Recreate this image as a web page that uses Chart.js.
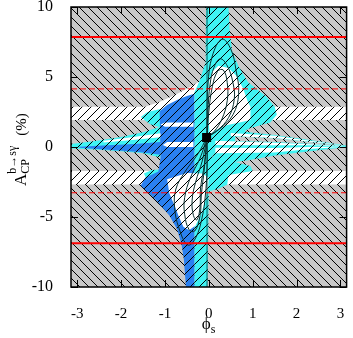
<!DOCTYPE html>
<html>
<head>
<meta charset="utf-8">
<script src="https://cdn.jsdelivr.net/npm/chart.js@4.4.0/dist/chart.umd.min.js"></script>
<style>
html, body { margin: 0; padding: 0; background: #fff; }
</style>
</head>
<body>
<canvas id="c" width="353" height="338"></canvas>
<script>
// axis ticks
const xTicks = [-3, -2, -1, 0, 1, 2, 3];
const yTicks = [-10, -5, 0, 5, 10];

// red reference lines, A_CP in %
const redSolid = [7.85, -6.87];
const redDashed = [4.15, -3.27];

// best fit point (phi_s, A_CP)
const bestFit = [-0.05, 0.68];

// allowed regions, [phi_s, A_CP] outlines
const bandUpper = [[-3.15, 1.93], [3.15, 1.93], [3.15, 2.88], [-3.15, 2.88]];
const bandLower = [[-3.15, -2.67], [3.15, -2.67], [3.15, -1.72], [-3.15, -1.72]];
const whiteCap = [[-1.45, 2.88], [-1.1, 3.25], [-0.75, 3.75], [-0.45, 4.25], [-0.2, 4.7], [-0.05, 4.6], [-0.1, 2.5]];
const leftLens = [[-3.15, 0.22], [-2.6, 0.42], [-2.0, 0.72], [-1.5, 1.05], [-1.1, 1.45], [-1.1, -0.75], [-1.5, -0.45], [-2.0, -0.3], [-2.6, -0.18], [-3.15, -0.1]];
const cyanBlobUp = [[-1.55, 2.15], [-1.4, 2.5], [-1.1, 2.72], [-1.1, 1.4], [-1.35, 1.65]];
const cyanBlobLow = [[-1.48, -1.9], [-1.3, -1.65], [-1.1, -1.6], [-1.1, -2.75], [-1.35, -2.72]];
const cyanFunnel = [[-0.06, 10], [0.45, 10], [0.47, 8.5], [0.53, 6.9], [0.68, 5.75], [0.9, 4.6], [1.31, 3.6], [1.5, 2.9], [1.55, 2.3], [1.4, 1.75], [0.95, 1.35], [0.45, 0.6], [0.15, 0.0], [0.05, -1.0], [0.0, -3.0], [-0.03, -10], [-0.33, -10], [-0.33, 3.9], [-0.2, 4.8], [-0.08, 6.0], [-0.07, 8.0]];
const rightLens = [[0.1, 1.6], [0.6, 1.45], [0.9, 1.05], [1.5, 0.85], [2.3, 0.5], [3.15, 0.1], [3.15, 0.0], [2.3, -0.3], [1.5, -0.6], [0.9, -0.95], [0.5, -1.1], [0.1, -1.3]];
const cyanLowRight = [[-0.03, -0.6], [0.5, -1.0], [0.95, -1.35], [1.0, -1.72], [0.45, -2.0], [0.42, -2.7], [0.2, -3.0], [-0.03, -3.2]];
const blueMain = [[-1.12, 2.55], [-0.95, 3.0], [-0.7, 3.4], [-0.5, 3.65], [-0.33, 3.8], [-0.33, -10], [-0.52, -10], [-0.57, -8], [-0.62, -7], [-0.72, -5.9], [-0.9, -4.9], [-1.2, -3.8], [-1.55, -2.75], [-1.45, -2.2], [-1.15, -1.75], [-1.1, -0.75]];
const leftLensBlue = [[-2.95, 0.02], [-2.3, 0.12], [-1.7, 0.22], [-1.1, 0.35], [-1.1, -0.55], [-1.6, -0.35], [-2.3, -0.2], [-2.95, -0.06]];
const leftLensWhite = [[-2.4, 0.45], [-1.8, 0.68], [-1.1, 0.98], [-1.1, 0.7], [-1.8, 0.48], [-2.4, 0.33]];
const blueStripeA = [[-1.0, 1.75], [-0.35, 1.75], [-0.35, 1.45], [-1.0, 1.45], [-1.1, 1.6]];
const blueStripeB = [[-0.95, 0.35], [-0.35, 0.35], [-0.35, 0.0], [-0.95, 0.0], [-1.05, 0.15]];
const whiteLobeUp = [[0.0, 4.6], [0.08, 5.4], [0.22, 5.8], [0.45, 5.65], [0.62, 5.1], [0.78, 4.2], [0.88, 3.3], [0.95, 2.88], [0.95, 1.93], [0.7, 1.75], [0.4, 1.55], [0.15, 1.2], [0.02, 0.9], [-0.02, 2.5]];
const whiteLobeLow = [[-0.95, -2.3], [-0.9, -3.3], [-0.78, -4.2], [-0.68, -5.0], [-0.58, -5.7], [-0.45, -5.95], [-0.3, -5.6], [-0.18, -4.8], [-0.08, -3.8], [-0.02, -3.0], [0.0, -2.2], [-0.15, -1.9], [-0.5, -1.85]];
const rightWhiteA = [[0.5, 1.0], [1.5, 0.8], [2.3, 0.45], [3.15, 0.09], [2.3, 0.38], [1.5, 0.65], [0.5, 0.78]];
const rightGray = [[0.6, 0.75], [1.5, 0.62], [2.3, 0.36], [3.15, 0.08], [2.3, 0.24], [1.5, 0.35], [0.6, 0.42]];
const rightWhiteB = [[0.15, 0.45], [1.5, 0.3], [2.3, 0.2], [3.15, 0.07], [2.3, 0.12], [1.5, 0.13], [0.15, 0.15]];
const rightWhiteC = [[0.15, -0.05], [1.5, -0.07], [2.3, 0.0], [3.15, 0.04], [2.3, -0.15], [1.5, -0.4], [0.15, -0.45]];

// contour lobes
const lobeUp1 = [[-0.04, 0.7], [-0.04, 2.5], [-0.02, 4.5], [0.08, 6.5], [0.3, 7.7], [0.5, 7.0], [0.62, 5.5], [0.68, 3.8], [0.55, 2.3], [0.25, 1.3], [-0.04, 0.7]];
const lobeUp2 = [[-0.04, 0.7], [-0.02, 2.5], [0.03, 4.5], [0.12, 5.7], [0.26, 6.3], [0.42, 5.8], [0.55, 4.6], [0.58, 3.4], [0.45, 2.1], [0.2, 1.2], [-0.04, 0.7]];
const lobeUp3 = [[-0.04, 0.7], [0.0, 2.5], [0.08, 4.3], [0.2, 5.4], [0.33, 5.5], [0.42, 4.6], [0.42, 3.3], [0.3, 2.0], [0.12, 1.1], [-0.04, 0.7]];
const lobeLow1 = [[-0.04, 0.7], [-0.25, -0.5], [-0.55, -1.8], [-0.75, -3.0], [-0.78, -4.3], [-0.68, -5.8], [-0.48, -7.0], [-0.3, -6.5], [-0.15, -5.0], [-0.08, -3.5], [-0.04, -1.5], [-0.04, 0.7]];
const lobeLow2 = [[-0.04, 0.7], [-0.2, -0.8], [-0.42, -2.2], [-0.55, -3.6], [-0.55, -4.8], [-0.45, -5.9], [-0.32, -6.0], [-0.2, -4.9], [-0.17, -3.4], [-0.1, -1.5], [-0.04, 0.7]];
const lobeLow3 = [[-0.04, 0.7], [-0.15, -1.0], [-0.3, -2.5], [-0.38, -3.8], [-0.35, -4.9], [-0.27, -5.2], [-0.2, -4.3], [-0.19, -3.0], [-0.1, -1.2], [-0.04, 0.7]];
const centralLine = [-0.04];

const serif = '"Liberation Serif", "DejaVu Serif", serif';
const canvas = document.getElementById('c');
const mainCtx = canvas.getContext('2d');

// hatched fills, dir 1 = "/", -1 = "\"
function hatch(bg, dir) {
  const s = 9;
  const c = document.createElement('canvas');
  c.width = s; c.height = s;
  const g = c.getContext('2d');
  g.fillStyle = bg;
  g.fillRect(0, 0, s, s);
  g.fillStyle = '#000';
  for (let i = 0; i < s; i++) g.fillRect(i, dir > 0 ? s - 1 - i : i, 1, 1);
  return mainCtx.createPattern(c, 'repeat');
}
const fills = {
  gray: hatch('#c8c8c8', -1),
  white: hatch('#ffffff', 1),
  cyan: hatch('#3ff3f3', 1),
  blue: hatch('#2a80f0', 1)
};

const layers = [
  [bandUpper, 'white'], [bandLower, 'white'], [whiteCap, 'white'],
  [leftLens, 'cyan'], [cyanBlobUp, 'cyan'], [cyanBlobLow, 'cyan'],
  [cyanFunnel, 'cyan'], [rightLens, 'cyan'], [cyanLowRight, 'cyan'],
  [blueMain, 'blue'], [leftLensBlue, 'blue'], [leftLensWhite, 'white'],
  [blueStripeA, 'white'], [blueStripeB, 'white'],
  [whiteLobeUp, 'white'], [whiteLobeLow, 'white'],
  [rightWhiteA, 'white'], [rightGray, 'gray'], [rightWhiteB, 'white'], [rightWhiteC, 'white']
];
const toXY = pts => pts.map(([x, y]) => ({x, y}));

const datasets = [];
layers.forEach(([pts, f]) => datasets.push({
  data: toXY(pts), backgroundColor: fills[f], borderColor: 'rgba(0,0,0,0)',
  borderWidth: 0, pointRadius: 0, fill: 'shape'
}));
centralLine.forEach(x => datasets.push({
  data: [{x, y: -10}, {x, y: 10}], borderColor: '#0c5c5c', borderWidth: 1, pointRadius: 0, fill: false
}));
[lobeUp1, lobeUp2, lobeUp3, lobeLow1, lobeLow2, lobeLow3].forEach(pts => datasets.push({
  data: toXY(pts), borderColor: '#0a2e2e', borderWidth: 1, tension: 0.4, pointRadius: 0, fill: false
}));
redSolid.forEach(v => datasets.push({
  data: [{x: -Math.PI, y: v}, {x: Math.PI, y: v}], borderColor: '#ff0000', borderWidth: 2, pointRadius: 0, fill: false
}));
redDashed.forEach(v => datasets.push({
  data: [{x: -Math.PI, y: v}, {x: Math.PI, y: v}], borderColor: '#ff0000', borderWidth: 1, borderDash: [6, 3], pointRadius: 0, fill: false
}));
datasets.push({
  data: [{x: bestFit[0], y: bestFit[1]}], showLine: false, pointStyle: 'rect',
  pointRadius: 6.4, backgroundColor: '#000', borderColor: '#000', borderWidth: 0
});
datasets.forEach((d, i) => { d.order = datasets.length - i; });

const backdrop = {
  id: 'backdrop',
  beforeDatasetsDraw(chart) {
    const {ctx, chartArea: a} = chart;
    ctx.save();
    ctx.fillStyle = fills.gray;
    ctx.fillRect(a.left, a.top, a.width, a.height);
    ctx.restore();
  }
};

const frame = {
  id: 'frame',
  afterDraw(chart) {
    const {ctx, chartArea: a, scales: {x, y}} = chart;
    ctx.save();
    ctx.strokeStyle = '#000';
    ctx.lineWidth = 1;
    ctx.beginPath();
    xTicks.forEach(v => {
      const px = Math.round(x.getPixelForValue(v)) + 0.5;
      ctx.moveTo(px, a.bottom); ctx.lineTo(px, a.bottom - 7);
      ctx.moveTo(px, a.top); ctx.lineTo(px, a.top + 7);
    });
    yTicks.forEach(v => {
      const py = Math.round(y.getPixelForValue(v)) + 0.5;
      ctx.moveTo(a.left, py); ctx.lineTo(a.left + 7, py);
      ctx.moveTo(a.right, py); ctx.lineTo(a.right - 7, py);
    });
    ctx.stroke();
    ctx.lineWidth = 1.5;
    ctx.strokeRect(a.left, a.top, a.width, a.height);

    // axis titles
    ctx.fillStyle = '#000';
    ctx.textBaseline = 'alphabetic';
    ctx.font = '17px ' + serif;
    const cx = (a.left + a.right) / 2;
    ctx.fillText('\u03d5', cx - 7, 329);
    const wp = ctx.measureText('\u03d5').width;
    ctx.font = '12px ' + serif;
    ctx.fillText('s', cx - 7 + wp, 333);

    ctx.translate(26, 186);
    ctx.rotate(-Math.PI / 2);
    ctx.font = '17px ' + serif;
    ctx.fillText('A', 0, 0);
    const wa = ctx.measureText('A').width;
    ctx.font = '12px ' + serif;
    ctx.fillText('CP', wa, 3);
    ctx.fillText('b\u2192s\u03b3', wa, -10);
    const ws = Math.max(ctx.measureText('CP').width, ctx.measureText('b\u2192s\u03b3').width);
    ctx.font = '15px ' + serif;
    ctx.fillText('(%)', wa + ws + 10, 0);
    ctx.restore();
  }
};

new Chart(canvas, {
  type: 'line',
  data: {datasets},
  options: {
    responsive: false,
    devicePixelRatio: 1,
    animation: false,
    events: [],
    layout: {padding: {top: 7, right: 2, left: 0, bottom: 0}},
    plugins: {legend: {display: false}, tooltip: {enabled: false}},
    scales: {
      x: {
        type: 'linear', min: -Math.PI, max: Math.PI,
        grid: {display: false}, border: {display: false},
        ticks: {stepSize: 1, includeBounds: false, padding: 10, maxRotation: 0, color: '#000', font: {family: serif, size: 15}},
        afterFit(s) { s.height = 51; s.paddingLeft = 0; s.paddingRight = 0; }
      },
      y: {
        type: 'linear', min: -10, max: 10,
        grid: {display: false}, border: {display: false},
        ticks: {stepSize: 5, padding: 10, color: '#000', font: {family: serif, size: 16}},
        afterFit(s) { s.width = 71; s.paddingTop = 0; s.paddingBottom = 0; }
      }
    }
  },
  plugins: [backdrop, frame]
});
</script>
</body>
</html>
